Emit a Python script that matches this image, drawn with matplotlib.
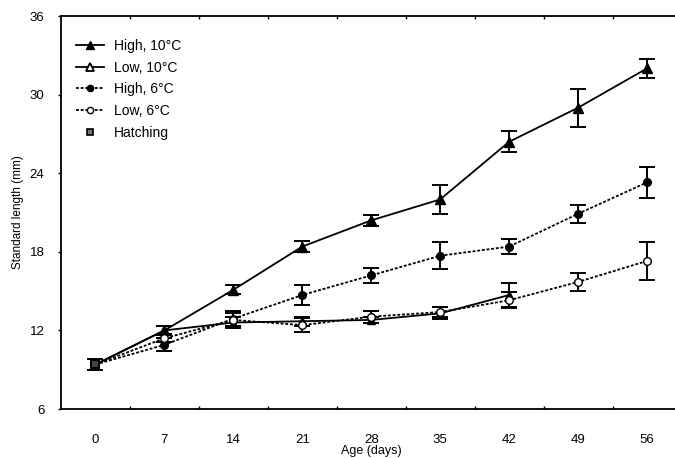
import matplotlib
matplotlib.use("Agg")
import matplotlib.pyplot as plt
from matplotlib.lines import Line2D
import numpy as np

plt.rcParams['font.family'] = ['Liberation Sans', 'DejaVu Sans']

days = [0, 7, 14, 21, 28, 35, 42, 49, 56]
high10 = [9.4, 12.0, 15.1, 18.4, 20.4, 22.0, 26.4, 29.0, 32.0]
high10_err = [0.4, 0.3, 0.35, 0.4, 0.4, 1.1, 0.8, 1.45, 0.7]
low10 = [9.4, 12.0, 12.6, 12.7, 12.8, 13.3, 14.7]
low10_err = [0.4, 0.35, 0.4, 0.35, 0.25, 0.45, 0.9]
high6 = [9.4, 10.9, 12.9, 14.7, 16.2, 17.7, 18.4, 20.9, 23.3]
high6_err = [0.4, 0.5, 0.6, 0.75, 0.55, 1.05, 0.6, 0.7, 1.2]
low6 = [9.4, 11.4, 12.8, 12.4, 13.05, 13.4, 14.3, 15.7, 17.3]
low6_err = [0.4, 0.3, 0.5, 0.55, 0.45, 0.4, 0.6, 0.7, 1.45]
hatch_day = [0]
hatch_val = [9.4]
hatch_err = [0.4]
yticks = [6, 12, 18, 24, 30, 36]

fig = plt.figure(figsize=(6.75, 4.58), dpi=100)
ax = fig.add_axes([61/675, 1-409/458, 620.5/675, 393/458])

pos = np.arange(len(days))

dot = (0, (1.6, 1.0))
ekw = dict(ecolor='black', elinewidth=1.4, capsize=6, capthick=1.4)

def series(vals, errs, ls, marker, mfc, ms):
    n = len(vals)
    x = pos[:n]
    ax.plot(x, vals, color='black', lw=1.3, ls=ls, zorder=2)
    ax.errorbar(x[1:], vals[1:], yerr=errs[1:], fmt='none', **ekw, zorder=3)
    ax.plot(x[1:], vals[1:], ls='none', marker=marker, mfc=mfc, mec='black',
            mew=1.0, ms=ms, zorder=4)

series(high10, high10_err, '-', '^', 'black', 7)
series(low10, low10_err, '-', '^', 'black', 6)
series(high6, high6_err, dot, 'o', 'black', 5.5)
series(low6, low6_err, dot, 'o', 'white', 5.5)

ax.errorbar(hatch_day, hatch_val, yerr=hatch_err, fmt='none', **ekw, zorder=3)
ax.plot(hatch_day, hatch_val, ls='none', marker='s', mfc='#444444', mec='black',
        mew=1.5, ms=6, zorder=5)

ax.set_xlim(-0.5, len(days) - 0.5)
ax.set_ylim(6, 36)
ax.set_yticks(yticks)
ax.set_xticks(pos)
ax.set_xticklabels([str(d) for d in days], fontsize=9.5)
ax.set_xticks(pos[:-1] + 0.5, minor=True)
ax.tick_params(axis='x', which='major', length=0, pad=18)
ax.tick_params(axis='x', which='minor', direction='in', length=2, width=1, top=True)
ax.tick_params(axis='y', which='major', direction='out', length=2, width=1, labelsize=9.5, pad=10)
for s in ax.spines.values():
    s.set_linewidth(1.3)

ax.set_xlabel('Age (days)', fontsize=9, va='center')
ax.xaxis.set_label_coords(0.5, (409 - 451) / 393)
ax.set_ylabel('Standard length (mm)', fontsize=8.5, va='center')
ax.yaxis.set_label_coords((18 - 61) / 620.5, 0.5)

handles = [
    Line2D([], [], color='black', lw=1.3, ls='-', marker='^', mfc='black', mec='black', ms=6),
    Line2D([], [], color='black', lw=1.3, ls='-', marker='^', mfc='white', mec='black', mew=1.3, ms=6),
    Line2D([], [], color='black', lw=1.3, ls=dot, marker='o', mfc='black', mec='black', ms=4.5),
    Line2D([], [], color='black', lw=1.3, ls=dot, marker='o', mfc='white', mec='black', ms=4.5),
    Line2D([], [], color='black', ls='none', marker='s', mfc='#777777', mec='black', mew=1.2, ms=4),
]
labels = ['High, 10°C', 'Low, 10°C', 'High, 6°C', 'Low, 6°C', 'Hatching']
ax.legend(handles, labels, loc='upper left', frameon=False, fontsize=10,
          bbox_to_anchor=(15/620.5, 1-23/393), borderpad=0, borderaxespad=0,
          handlelength=2.0, handletextpad=0.7, labelspacing=0.55)

fig.savefig('out.png', dpi=100)
